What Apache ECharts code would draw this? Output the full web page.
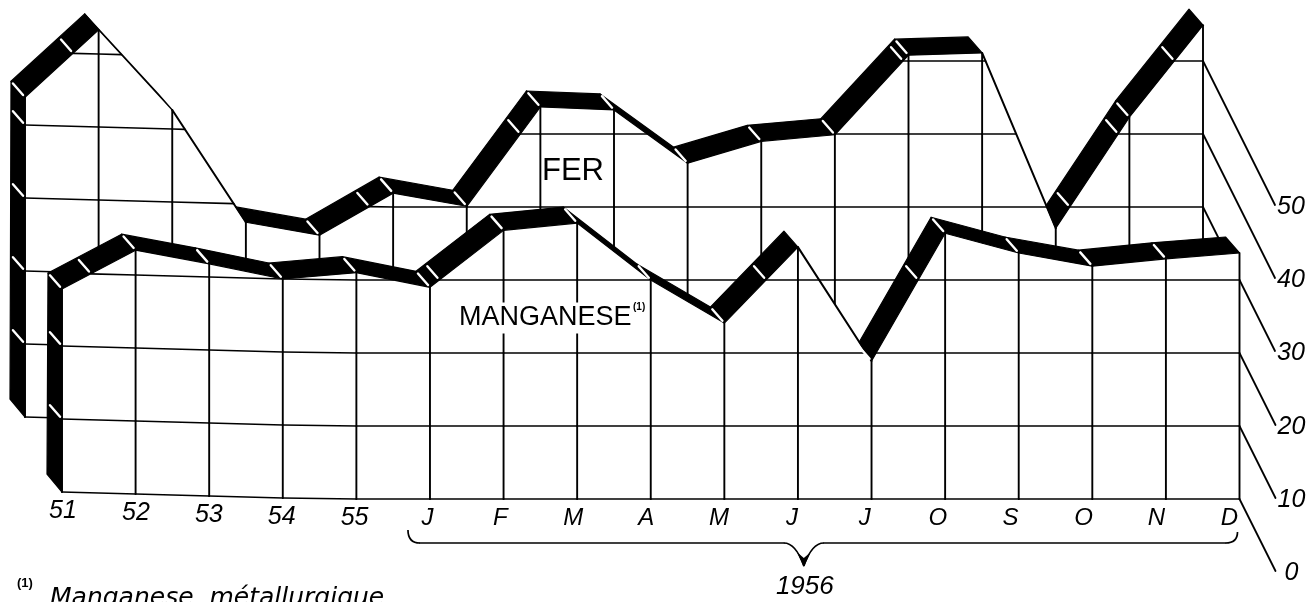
<!DOCTYPE html>
<html>
<head>
<meta charset="utf-8">
<title>Fer et manganese</title>
<script src="https://cdn.jsdelivr.net/npm/echarts@6/dist/echarts.min.js"></script>
<style>
    html, body { margin: 0; padding: 0; background: #fff; }
    #chart { width: 1316px; height: 602px; }
</style>
</head>
<body>
<div id="chart"></div>
<script>
const periodLabels = ["51", "52", "53", "54", "55", "J", "F", "M", "A", "M", "J", "J", "O", "S", "O", "N", "D"];

const ferValues = [43.8, 53.3, 42.6, 27.5, 26.0, 31.9, 30.1, 43.7, 43.3, 36.0, 39.0, 39.9, 50.8, 51.1, 27.1, 42.3, 54.9];
const manganeseValues = [27.8, 33.4, 31.8, 30.0, 31.0, 29.0, 36.8, 37.8, 30.0, 24.1, 34.5, 18.9, 36.4, 33.7, 31.9, 32.9, 33.7];

// rows drawn on each plane, and which of them run out to a scale label
const ferRows = [0, 10, 20, 30, 40, 50];
const manganeseRows = [0, 10, 20, 30];
const ferScaleTicks = [30, 40, 50];
const manganeseScaleTicks = [0, 10, 20];

// vertices where the band carries no white slash
const ferPlainVertices = [1, 2, 3, 13, 14, 16];
const manganesePlainVertices = [10, 16];

const chart = echarts.init(document.getElementById("chart"));

const INK = "#000";
const FONT = '"Liberation Sans", sans-serif';
const BAND_DEPTH = [-14, -16];      // thickness of the black ribbon
const PLANE_STEP = [36, 72];        // one step towards the scale labels
const SAG_BACK = [-9, -7, -5, -3, -1];
const SAG_FRONT = [-7, -5, -3, -1];

function line(a, b, width, color, z2) {
    return {
        type: "line",
        z2: z2,
        shape: { x1: a[0], y1: a[1], x2: b[0], y2: b[1] },
        style: { stroke: color, lineWidth: width, lineCap: "round" }
    };
}

function poly(points, color, z2, stroke) {
    return {
        type: "polygon",
        z2: z2,
        shape: { points: points },
        style: { fill: color, stroke: stroke || null, lineWidth: stroke ? 1.2 : 0, lineJoin: "round" }
    };
}

function mix(a, b, t) {
    return [a[0] + (b[0] - a[0]) * t, a[1] + (b[1] - a[1]) * t];
}

function shift(p, d, k) {
    return [p[0] + d[0] * (k === undefined ? 1 : k), p[1] + d[1] * (k === undefined ? 1 : k)];
}

// the top of the ribbon only shows when the curve falls less steeply than the depth
function ribbonHidden(p, q) {
    return (q[0] - p[0]) * BAND_DEPTH[1] - (q[1] - p[1]) * BAND_DEPTH[0] >= 0;
}

// where two lines a-b and c-d meet
function meet(a, b, c, d) {
    const rx = b[0] - a[0], ry = b[1] - a[1];
    const sx = d[0] - c[0], sy = d[1] - c[1];
    const t = ((c[0] - a[0]) * sy - (c[1] - a[1]) * sx) / (rx * sy - ry * sx);
    return [a[0] + rx * t, a[1] + ry * t];
}

function slash(p) {
    return line(shift(p, BAND_DEPTH, 0.14), shift(p, BAND_DEPTH, 0.86), 2.4, "#fff", 10);
}

function planeSeries(name, axisIndex, z, values, rows, plainVertices, scaleTicks, scaleSteps, sag) {
    const last = values.length - 1;

    return {
        name: name,
        type: "custom",
        xAxisIndex: axisIndex,
        yAxisIndex: axisIndex,
        z: z,
        data: values.map((v, i) => [i, v]),
        renderItem: function (params, api) {
            const at = (i, v) => {
                const c = api.coord([i, v]);
                return [c[0], c[1] + (sag[i] || 0)];
            };
            const i = api.value(0);
            const v = api.value(1);
            const p = at(i, v);
            const base = at(i, 0);
            const out = [];

            // column up to the curve
            out.push(line(base, p, 1.9, INK, 2));
            if (plainVertices.indexOf(i) < 0) out.push(slash(p));

            if (i < last) {
                const w = values[i + 1];
                const q = at(i + 1, w);
                const nextBase = at(i + 1, 0);

                // opaque wall under the curve, hides whatever stands behind it
                out.push(poly([p, q, nextBase, base], "#fff", 0));

                if (ribbonHidden(p, q)) {
                    out.push(line(p, q, 2, INK, 5));
                } else {
                    const topStart = shift(p, BAND_DEPTH);
                    const topEnd = shift(q, BAND_DEPTH);
                    let corner = topStart;
                    if (i > 0) {
                        const prev = at(i - 1, values[i - 1]);
                        if (ribbonHidden(prev, p)) corner = meet(topStart, topEnd, prev, p);
                    }
                    out.push(poly([p, q, topEnd, corner], INK, 5, INK));
                }

                rows.forEach(r => {
                    const left = at(i, r);
                    const right = at(i + 1, r);
                    if (v >= r && w >= r) {
                        out.push(line(left, right, 1.7, INK, 1));
                    } else if (v >= r || w >= r) {
                        const t = (r - v) / (w - v);
                        const cut = mix(left, right, t);
                        out.push(line(v >= r ? left : right, cut, 1.7, INK, 1));
                        if (w > v && t > 0.1 && t < 0.95) out.push(slash(cut));
                    }
                });
            }

            if (i === 0) {
                // black end of the wall on the left
                out.push(poly([p, base, shift(base, [-15, -18]), shift(p, BAND_DEPTH)], INK, 5, INK));
                rows.forEach(r => {
                    if (r > 0 && r < v) out.push(slash(at(0, r)));
                });
            }

            if (i === last) {
                scaleTicks.forEach(t => {
                    const start = at(last, t);
                    const end = shift(start, PLANE_STEP, scaleSteps);
                    out.push(line(start, end, 1.8, INK, 1));
                    out.push({
                        type: "text",
                        z2: 12,
                        style: {
                            text: String(t),
                            x: end[0] + 16,
                            y: end[1] + 2,
                            fill: INK,
                            font: "italic 25px " + FONT,
                            align: "center",
                            verticalAlign: "middle"
                        }
                    });
                });
            }

            return { type: "group", children: out };
        }
    };
}

function periodSeries() {
    return {
        name: "periods",
        type: "custom",
        xAxisIndex: 1,
        yAxisIndex: 1,
        z: 6,
        data: periodLabels.map((label, i) => [i, 0]),
        renderItem: function (params, api) {
            const i = api.value(0);
            const c = api.coord([i, 0]);
            const y = c[1] + (SAG_FRONT[i] || 0);
            return {
                type: "text",
                style: {
                    text: periodLabels[i],
                    x: c[0] + 1 - i * 0.7,
                    y: y + 19,
                    fill: INK,
                    font: "italic " + (i < 5 ? 25 : 24) + "px " + FONT,
                    align: "center",
                    verticalAlign: "middle"
                }
            };
        }
    };
}

function braceSeries() {
    return {
        name: "1956",
        type: "custom",
        xAxisIndex: 1,
        yAxisIndex: 1,
        z: 6,
        data: [[5, 0]],
        renderItem: function (params, api) {
            const a = api.coord([5, 0]);
            const b = api.coord([16, 0]);
            const m = api.coord([10.08, 0]);
            const y = a[1] + 44;
            const curve = (x1, y1, x2, y2, cx, cy) => ({
                type: "bezierCurve",
                shape: { x1: x1, y1: y1, x2: x2, y2: y2, cpx1: cx, cpy1: cy },
                style: { stroke: INK, lineWidth: 1.7, fill: null }
            });
            return {
                type: "group",
                children: [
                    curve(a[0] - 22, y - 13, a[0] - 10, y, a[0] - 22, y),
                    line([a[0] - 10, y], [m[0] - 20, y], 1.7, INK, 0),
                    curve(m[0] - 20, y, m[0], y + 23, m[0] - 8, y),
                    curve(m[0] + 20, y, m[0], y + 23, m[0] + 8, y),
                    poly([[m[0] - 7, y + 9], [m[0], y + 24], [m[0] + 7, y + 9], [m[0], y + 15]], INK, 1),
                    line([m[0] + 20, y], [b[0] - 14, y], 1.7, INK, 0),
                    curve(b[0] - 14, y, b[0] - 2, y - 11, b[0] - 2, y),
                    {
                        type: "text",
                        style: {
                            text: "1956",
                            x: m[0] + 1,
                            y: y + 44,
                            fill: INK,
                            font: "italic 26px " + FONT,
                            align: "center",
                            verticalAlign: "middle"
                        }
                    }
                ]
            };
        }
    };
}

function note(text, x, y, size, extra) {
    return {
        type: "text",
        z: 10,
        x: x,
        y: y,
        style: Object.assign({
            text: text,
            fill: INK,
            font: size + "px " + FONT,
            align: "left",
            verticalAlign: "middle"
        }, extra || {})
    };
}

const option = {
    animation: false,
    backgroundColor: "#fff",
    grid: [
        { left: 25, width: 1178, top: 24.5, height: 401.5 },
        { left: 62, width: 1177.5, top: 97.5, height: 401.5 }
    ],
    xAxis: [
        { type: "value", gridIndex: 0, min: 0, max: 16, show: false },
        { type: "value", gridIndex: 1, min: 0, max: 16, show: false }
    ],
    yAxis: [
        { type: "value", gridIndex: 0, min: 0, max: 55, show: false },
        { type: "value", gridIndex: 1, min: 0, max: 55, show: false }
    ],
    graphic: [
        note("FER", 542, 171, 31),
        note("MANGANESE", 457, 318, 27, { backgroundColor: "#fff", padding: [2, 2, 2, 2] }),
        note("(1)", 633, 307, 10, { font: "bold 10px " + FONT }),
        note("(1)", 17, 583, 13, { font: "bold 13px " + FONT }),
        note("Manganese  métallurgique", 50, 598, 25, { font: 'italic 25px "DejaVu Sans"' })
    ],
    series: [
        planeSeries("Fer", 0, 2, ferValues, ferRows, ferPlainVertices, ferScaleTicks, 2, SAG_BACK),
        planeSeries("Manganese", 1, 4, manganeseValues, manganeseRows, manganesePlainVertices, manganeseScaleTicks, 1, SAG_FRONT),
        periodSeries(),
        braceSeries()
    ]
};

chart.setOption(option);
</script>
</body>
</html>
